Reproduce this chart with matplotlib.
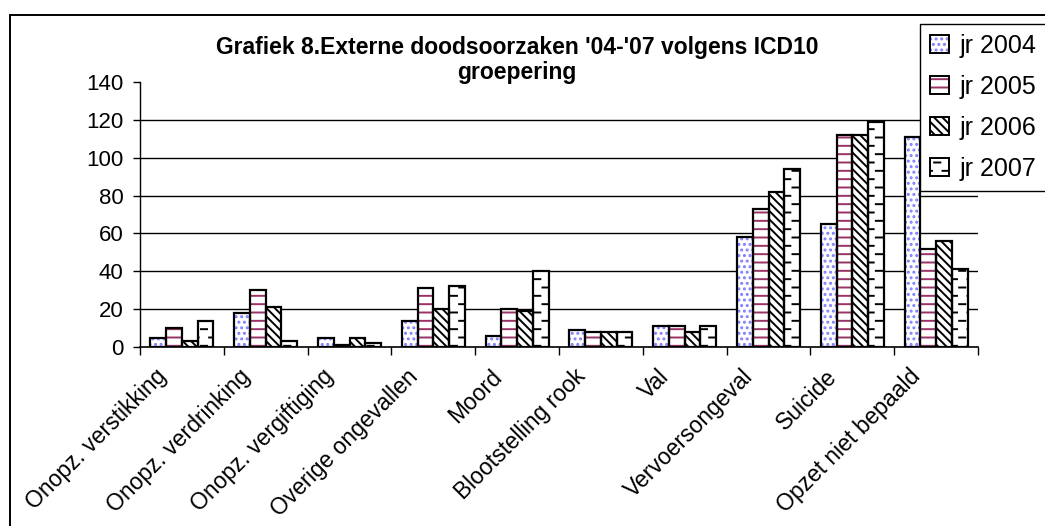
import numpy as np
import matplotlib
matplotlib.use("Agg")
import matplotlib.pyplot as plt
import matplotlib.hatch as mhatch
from matplotlib.path import Path
from matplotlib.patches import Rectangle, Patch
from matplotlib.transforms import ScaledTranslation

categories = ["Onopz. verstikking", "Onopz. verdrinking", "Onopz. vergiftiging",
              "Overige ongevallen", "Moord", "Blootstelling rook", "Val",
              "Vervoersongeval", "Suicide", "Opzet niet bepaald"]
series_names = ["jr 2004", "jr 2005", "jr 2006", "jr 2007"]
jr2004 = [5, 18, 5, 14, 6, 9, 11, 58, 65, 111]
jr2005 = [10, 30, 1, 31, 20, 8, 11, 73, 112, 52]
jr2006 = [3, 21, 5, 20, 19, 8, 8, 82, 112, 56]
jr2007 = [14, 3, 2, 32, 40, 8, 11, 94, 119, 41]
yticks = [0, 20, 40, 60, 80, 100, 120, 140]
title = "Grafiek 8.Externe doodsoorzaken '04-'07 volgens ICD10\ngroepering"


# custom "dashed horizontal" hatch (replaces large-circle 'O' pattern)
class DashHatch(mhatch.HatchPatternBase):
    def __init__(self, hatch, density):
        self.n = int(hatch.count('O') * density)
        self.num_vertices = self.n * self.n * 4

    def set_vertices_and_codes(self, vertices, codes):
        n = self.n
        s = 1.0 / n
        k = 0
        for i in range(n):
            for j in range(n):
                x0, y0 = j * s, i * s
                for (xa, xb, yy) in ((0.05, 0.42, 0.25), (0.55, 0.92, 0.75)):
                    vertices[k] = (x0 + xa * s, y0 + yy * s)
                    vertices[k + 1] = (x0 + xb * s, y0 + yy * s)
                    codes[k] = Path.MOVETO
                    codes[k + 1] = Path.LINETO
                    k += 2


mhatch._hatch_types = [DashHatch if t is mhatch.LargeCircles else t
                       for t in mhatch._hatch_types]

plt.rcParams['font.family'] = ['Liberation Sans', 'DejaVu Sans']
plt.rcParams['hatch.linewidth'] = 1.4

W, H = 1045, 526
fig = plt.figure(figsize=(W / 100, H / 100), dpi=100)
ax = fig.add_axes([140 / W, 1 - 347 / H, 838 / W, 265 / H])

data = [jr2004, jr2005, jr2006, jr2007]
hatches = ['...', '--', '\\\\\\\\', 'O']
hcolors = ['#8080FF', '#993366', '#000000', '#000000']
x = np.arange(len(categories))
bw = 0.188
handles = []
for i, (vals, h, hc) in enumerate(zip(data, hatches, hcolors)):
    pos = x + (i - 1.5) * bw
    ax.bar(pos, vals, width=bw, color='white', edgecolor=hc, hatch=h,
           linewidth=0, zorder=2)
    ax.bar(pos, vals, width=bw, fill=False, edgecolor='black',
           linewidth=1.6, zorder=3)
    handles.append((Patch(facecolor='white', edgecolor=hc, hatch=h, linewidth=0),
                    Patch(fill=False, edgecolor='black', linewidth=1.4)))

ax.set_xlim(-0.5, len(categories) - 0.5)
ax.set_ylim(0, 140)
ax.set_yticks(yticks)
ax.set_yticklabels([str(v) for v in yticks], fontsize=16)
for v in yticks[1:-1]:
    ax.axhline(v, color='black', linewidth=1.0, zorder=1)

ax.spines['top'].set_visible(False)
ax.spines['right'].set_visible(False)
ax.spines['left'].set_linewidth(1.0)
ax.spines['bottom'].set_linewidth(1.2)
ax.tick_params(axis='y', length=5, width=1, pad=7, direction='out')

ax.set_xticks(x)
ax.set_xticks(np.arange(len(categories) + 1) - 0.5, minor=True)
ax.tick_params(axis='x', which='major', length=0, pad=13)
ax.tick_params(axis='x', which='minor', length=6, width=1, direction='out')
ax.set_xticklabels(categories, rotation=45, ha='right', fontsize=16.5)
off = ScaledTranslation(-11 / 100, 0, fig.dpi_scale_trans)
for lab in ax.get_xticklabels():
    lab.set_transform(lab.get_transform() + off)

fig.text(517 / W, 1 - 60 / H, title, ha='center', va='center',
         fontsize=16.5, fontweight='bold', linespacing=1.1)

# outer chart border
fig.patches.append(Rectangle((10 / W, -0.2), 1.2, 1.2 - 15 / H, fill=False,
                             edgecolor='black', linewidth=1.4,
                             transform=fig.transFigure, figure=fig))

leg = fig.legend(handles, series_names, loc='upper left',
                 bbox_to_anchor=(920 / W, 1 - 24 / H), fontsize=18,
                 handlelength=0.75, handleheight=0.75, handletextpad=0.45,
                 labelspacing=0.68, borderpad=0.4, borderaxespad=0,
                 fancybox=False, framealpha=1, edgecolor='black')
leg.get_frame().set_linewidth(1.0)

fig.savefig("out.png", dpi=100)
